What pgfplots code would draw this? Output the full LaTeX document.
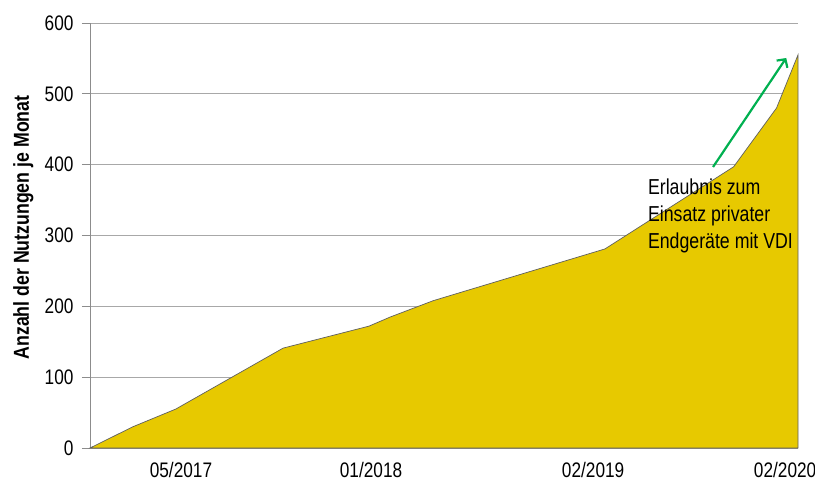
\documentclass[border=0pt]{standalone}
\usepackage{pgfplots}
\pgfplotsset{compat=1.18}
\usepackage{fontspec}
\setmainfont{Liberation Sans}
\usetikzlibrary{arrows.meta}
\definecolor{areafill}{RGB}{231,201,0}
\definecolor{gridc}{RGB}{168,168,168}
\definecolor{axisc}{RGB}{140,140,140}
\definecolor{outl}{RGB}{95,95,95}
\definecolor{arrowg}{RGB}{0,176,80}
\begin{document}
\begin{tikzpicture}
\begin{axis}[
  name=ax,
  scale only axis,
  width=708bp, height=425bp,
  xmin=0, xmax=33, ymin=0, ymax=600,
  axis lines*=left,
  axis line style={draw=axisc, line width=0.9bp},
  ymajorgrids,
  grid style={draw=gridc, line width=0.9bp},
  ytick={0,100,200,300,400,500,600},
  xtick={4.24,13.1,23.45,32.4},
  xticklabels={05/2017,01/2018,02/2019,02/2020},
  tick align=outside,
  major tick length=8bp,
  ytick style={draw=axisc, line width=0.9bp},
  xtick style={draw=none},
  /pgf/number format/assume math mode=true,
  tick label style={font=\fontsize{17.3}{20}\selectfont},
  yticklabel style={xshift=-5bp, yscale=1.22},
  xticklabel style={yshift=-1.5bp, yscale=1.22},
  ylabel={\scalebox{0.82}[1]{\fontsize{21.7}{24}\selectfont\bfseries Anzahl der Nutzungen je Monat}},
  every axis y label/.style={at={(axis description cs:0,0.5)}, xshift=-61bp, yshift=8bp, rotate=90, anchor=base, inner sep=0pt},
  clip=false,
]
\addplot[fill=areafill, draw=outl, line width=0.7bp] coordinates {
  (0,0) (2,30) (4,55) (9,141) (13,172) (14,185) (16,208)
  (24,281) (30,397) (32,480) (33,555)
} \closedcycle;
\draw[arrowg, line width=2.2bp, -{Straight Barb[length=6bp,width=13bp,line width=2.2bp]}]
  (axis cs:29.04,396.7) -- (axis cs:32.45,550.6);
\node[anchor=north west, inner sep=0pt, align=left, yscale=1.22,
  font=\fontsize{17.8}{22}\selectfont] at (axis cs:26.0,380)
  {Erlaubnis zum\\Einsatz privater\\Endgeräte mit VDI};
\end{axis}
\pgfresetboundingbox
\path[use as bounding box] ([xshift=-90bp,yshift=-34bp]ax.south west) rectangle ([xshift=17bp,yshift=23bp]ax.north east);
\end{tikzpicture}
\end{document}
